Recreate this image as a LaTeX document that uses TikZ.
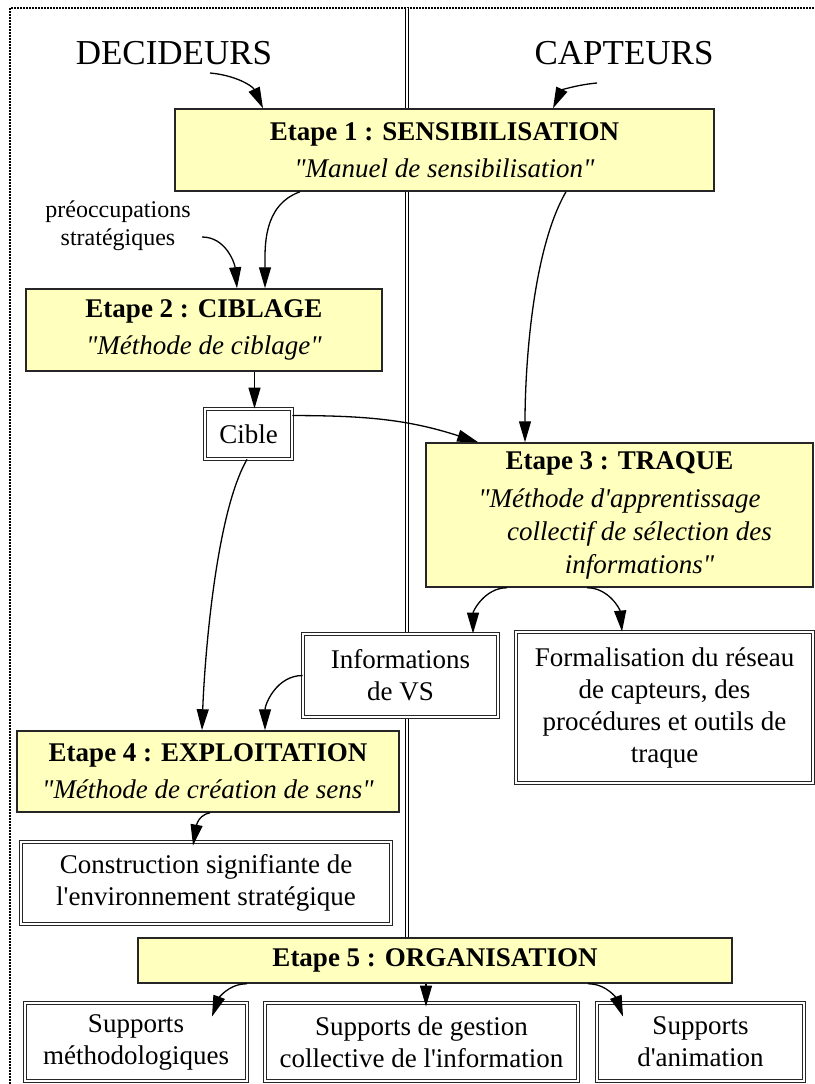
\documentclass[tikz,border=0pt]{standalone}
\usepackage{fontspec}
\setmainfont{Liberation Serif}[Ligatures=TeXOff]
\usetikzlibrary{arrows.meta}

\definecolor{jaune}{RGB}{255,255,190}

\tikzset{
	etape/.style={draw=black!85, line width=1.5pt, fill=jaune, align=center, inner sep=0pt, font=\fontsize{27}{33}\selectfont},
	produit/.style={draw=black!85, double, double distance=1.6pt, line width=0.9pt, fill=white, align=center, inner sep=0pt, font=\fontsize{27}{32}\selectfont},
	acteur/.style={font=\fontsize{35}{40}\selectfont},
	fleche/.style={-{Triangle[length=21pt,width=12pt]}, line width=1.3pt},
}

\begin{document}
\begin{tikzpicture}[x=1pt,y=1pt]
	\useasboundingbox (0,0) rectangle (814,-1084);
	
	% cadre et separation
	\draw[line width=2.2pt, dash pattern=on 2pt off 1pt] (10,-1084) -- (10,-8) -- (814,-8);
	\draw[double, double distance=1.8pt, line width=1pt] (407,-8) -- (407,-938);
	
	\node[acteur] (dec) at (174,-53) {DECIDEURS};
	\node[acteur] (cap) at (624,-53) {CAPTEURS};
	
	\node[etape, minimum width=539pt, minimum height=82pt] (e1) at (444.5,-150) {\textbf{Etape 1 : SENSIBILISATION}\\[4pt]\textit{"Manuel de sensibilisation"}};
	\node[font=\fontsize{24}{28}\selectfont, align=center] (preo) at (118,-226) {préoccupations\\stratégiques};
	\node[etape, minimum width=356pt, minimum height=82pt] (e2) at (204,-330) {\textbf{Etape 2 : CIBLAGE}\\[4pt]\textit{"Méthode de ciblage"}};
	\node[produit, minimum width=87pt, minimum height=50pt] (cible) at (248.5,-434) {Cible};
	\node[etape, minimum width=387pt, minimum height=144pt] (e3) at (619.5,-515) {\textbf{Etape 3 : TRAQUE}\\[5pt]\textit{"Méthode d'apprentissage}\\\textit{\hspace*{40pt}collectif de sélection des}\\\textit{\hspace*{40pt}informations"}};
	\node[produit, minimum width=195pt, minimum height=83pt] (info) at (400.5,-675.5) {Informations\\de VS};
	\node[produit, minimum width=297pt, minimum height=151pt] (form) at (664.5,-707.5) {Formalisation du réseau\\de capteurs, des\\procédures et outils de\\traque};
	\node[etape, minimum width=382pt, minimum height=81pt] (e4) at (208,-771.5) {\textbf{Etape 4 : EXPLOITATION}\\[4pt]\textit{"Méthode de création de sens"}};
	\node[produit, minimum width=370pt, minimum height=82pt] (constr) at (206,-883) {Construction signifiante de\\l'environnement stratégique};
	\node[etape, minimum width=594pt, minimum height=45pt] (e5) at (435,-960.5) {\textbf{Etape 5 : ORGANISATION}};
	\node[produit, minimum width=222pt, minimum height=78pt] (s1) at (136,-1042) {Supports\\méthodologiques};
	\node[produit, minimum width=313pt, minimum height=78pt] (s2) at (421.5,-1042) {Supports de gestion\\collective de l'information};
	\node[produit, minimum width=207pt, minimum height=78pt] (s3) at (700.5,-1042) {Supports\\d'animation};
	
	% fleches
	\draw[fleche] ([shift={(36,-20)}]dec.center) to[out=-5, in=115] ([xshift=-181.5pt]e1.north);
	\draw[fleche] ([shift={(-27,-30)}]cap.center) to[out=185, in=65] ([xshift=108.5pt]e1.north);
	\draw[fleche] ([xshift=-144.5pt]e1.south) to[out=200, in=90] ([xshift=61pt]e2.north);
	\draw[fleche] ([shift={(84,-11)}]preo.center) to[out=0, in=95] ([xshift=33pt]e2.north);
	\draw[fleche] ([xshift=50.5pt]e2.south) -- ([xshift=6pt]cible.north);
	\draw[fleche] ([yshift=-7pt]cible.north east) to[out=0, in=162] ([xshift=53pt]e3.north west);
	\draw[fleche] ([xshift=121.5pt]e1.south) to[out=240, in=90, looseness=0.7] ([xshift=-94.5pt]e3.north);
	\draw[fleche] ([xshift=-1.5pt]cible.south) to[out=240, in=88, looseness=0.6] ([xshift=-6pt]e4.north);
	\draw[fleche] ([xshift=-112.5pt]e3.south) to[out=180, in=90] ([xshift=72.5pt]info.north);
	\draw[fleche] ([xshift=-32.5pt]e3.south) to[out=0, in=95] ([xshift=-42.5pt]form.north);
	\draw[fleche] (info.west) to[out=180, in=90] ([xshift=57pt]e4.north);
	\draw[fleche] ([xshift=2pt]e4.south) to[out=190, in=80] ([shift={(-13,-4)}]constr.north);
	\draw[fleche] ([xshift=-188pt]e5.south) to[out=180, in=70] ([shift={(76,-14)}]s1.north);
	\draw[fleche] ([xshift=-9pt]e5.south) -- ([shift={(4.5,-4)}]s2.north);
	\draw[fleche] ([xshift=153pt]e5.south) to[out=0, in=110] ([shift={(-77.5,-14)}]s3.north);
\end{tikzpicture}
\end{document}
